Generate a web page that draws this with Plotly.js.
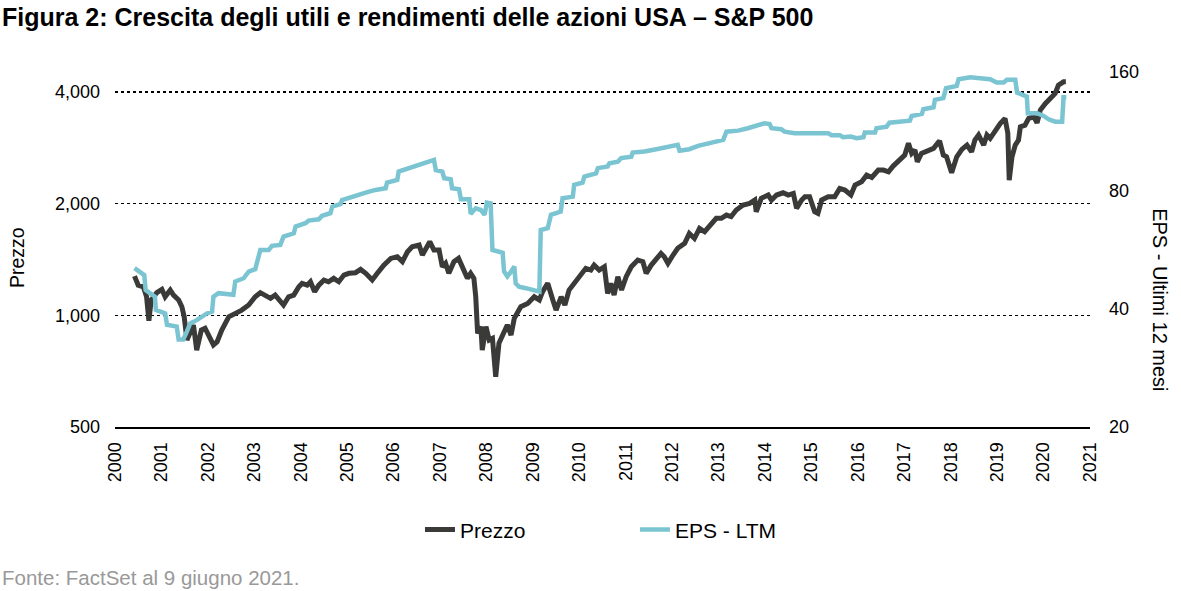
<!DOCTYPE html>
<html>
<head>
<meta charset="utf-8">
<script src="https://cdn.plot.ly/plotly-3.0.1.min.js"></script>
<style>
  html, body { margin: 0; padding: 0; background: #fff; }
  #chart { width: 1181px; height: 591px; }
</style>
</head>
<body>
<div id="chart"></div>
<script>
// S&P 500: prezzo (asse sx, log) ed EPS ultimi 12 mesi (asse dx, log)
const priceDates = [
  2000.42, 2000.50, 2000.61, 2000.68, 2000.73, 2000.78, 2000.90, 2001.01, 2001.08, 2001.19,
  2001.26, 2001.37, 2001.44, 2001.49, 2001.55, 2001.62, 2001.69, 2001.76, 2001.86, 2001.94,
  2002.04, 2002.12, 2002.20, 2002.30, 2002.45, 2002.59, 2002.73, 2002.88, 2003.02, 2003.13,
  2003.24, 2003.35, 2003.45, 2003.56, 2003.63, 2003.74, 2003.85, 2003.96, 2004.03, 2004.14,
  2004.21, 2004.30, 2004.39, 2004.50, 2004.60, 2004.71, 2004.82, 2004.93, 2005.04, 2005.18,
  2005.29, 2005.40, 2005.54, 2005.65, 2005.79, 2005.94, 2006.08, 2006.19, 2006.30, 2006.40,
  2006.55, 2006.62, 2006.69, 2006.78, 2006.87, 2006.98, 2007.05, 2007.12, 2007.19, 2007.30,
  2007.40, 2007.48, 2007.59, 2007.66, 2007.73, 2007.77, 2007.81, 2007.88, 2007.91, 2007.99,
  2008.06, 2008.13, 2008.20, 2008.27, 2008.38, 2008.45, 2008.53, 2008.60, 2008.74, 2008.89,
  2009.03, 2009.14, 2009.21, 2009.32, 2009.43, 2009.50, 2009.61, 2009.69, 2009.78, 2009.89,
  2010.04, 2010.14, 2010.25, 2010.32, 2010.43, 2010.54, 2010.61, 2010.68, 2010.75, 2010.83,
  2010.91, 2011.01, 2011.12, 2011.26, 2011.37, 2011.44, 2011.55, 2011.66, 2011.76, 2011.83,
  2011.91, 2012.02, 2012.12, 2012.27, 2012.37, 2012.48, 2012.59, 2012.70, 2012.81, 2012.95,
  2013.06, 2013.17, 2013.27, 2013.38, 2013.53, 2013.67, 2013.78, 2013.81, 2013.92, 2014.07,
  2014.14, 2014.25, 2014.39, 2014.50, 2014.61, 2014.68, 2014.79, 2014.86, 2014.96, 2015.07,
  2015.14, 2015.22, 2015.36, 2015.50, 2015.61, 2015.72, 2015.85, 2015.94, 2016.08, 2016.19,
  2016.30, 2016.44, 2016.55, 2016.66, 2016.76, 2016.91, 2017.01, 2017.09, 2017.16, 2017.23,
  2017.28, 2017.37, 2017.52, 2017.63, 2017.76, 2017.84, 2017.91, 2018.02, 2018.13, 2018.24,
  2018.35, 2018.45, 2018.52, 2018.60, 2018.71, 2018.78, 2018.85, 2018.96, 2019.07, 2019.17,
  2019.23, 2019.26, 2019.32, 2019.39, 2019.46, 2019.50, 2019.60, 2019.68, 2019.79, 2019.86,
  2019.93, 2020.04, 2020.14, 2020.25, 2020.32, 2020.43, 2020.48
];
const priceValues = [
  1276, 1206, 1194, 1122, 967, 1100, 1151, 1175, 1122, 1170,
  1134, 1100, 1055, 991, 858, 903, 942, 806, 913, 923,
  876, 832, 849, 913, 991, 1012, 1033, 1066, 1122, 1151,
  1134, 1111, 1134, 1088, 1066, 1122, 1134, 1194, 1220, 1206,
  1232, 1158, 1206, 1245, 1232, 1258, 1232, 1284, 1298, 1303,
  1330, 1298, 1245, 1298, 1366, 1424, 1439, 1395, 1484, 1531,
  1547, 1454, 1500, 1579, 1500, 1500, 1352, 1381, 1298, 1395,
  1424, 1352, 1258, 1298, 1258, 1122, 894, 932, 806, 932,
  858, 867, 683, 841, 894, 942, 885, 982, 1055, 1077,
  1122, 1100, 1158, 1220, 1100, 1033, 1122, 1066, 1170, 1220,
  1284, 1339, 1325, 1366, 1325, 1352, 1146, 1220, 1134, 1271,
  1170, 1271, 1352, 1409, 1395, 1298, 1366, 1424, 1469, 1439,
  1381, 1454, 1516, 1563, 1663, 1612, 1716, 1680, 1751, 1826,
  1826, 1863, 1845, 1922, 1983, 2004, 2046, 1902, 2067, 2110,
  2046, 2110, 2140, 2110, 2132, 1943, 2046, 2088, 2088, 1902,
  1883, 2046, 2088, 2088, 2199, 2176, 2110, 2245, 2291, 2388,
  2354, 2464, 2464, 2438, 2526, 2622, 2704, 2908, 2733, 2789,
  2594, 2733, 2789, 2819, 2955, 2704, 2676, 2423, 2676, 2802,
  2877, 2760, 2968, 3062, 2877, 3062, 2999, 3158, 3292, 3396,
  3094, 2315, 2676, 2877, 2968, 3223, 3257, 3396, 3430, 3304,
  3575, 3727, 3845, 3966, 4176, 4262, 4262
];

const epsDates = [
  2000.42, 2000.54, 2000.63, 2000.66, 2000.79, 2000.86, 2000.88, 2001.08, 2001.12, 2001.33,
  2001.37, 2001.47, 2001.55, 2001.62, 2001.76, 2001.87, 2001.98, 2002.09, 2002.12, 2002.23,
  2002.55, 2002.59, 2002.77, 2002.88, 2003.02, 2003.13, 2003.31, 2003.38, 2003.56, 2003.63,
  2003.85, 2003.89, 2004.10, 2004.17, 2004.39, 2004.46, 2004.64, 2004.68, 2004.86, 2004.89,
  2005.11, 2005.36, 2005.40, 2005.61, 2005.83, 2005.86, 2006.08, 2006.11, 2006.33, 2006.44,
  2006.62, 2006.76, 2006.87, 2006.91, 2007.05, 2007.09, 2007.23, 2007.26, 2007.41, 2007.45,
  2007.63, 2007.66, 2007.77, 2007.88, 2007.96, 2008.01, 2008.09, 2008.13, 2008.24, 2008.35,
  2008.38, 2008.45, 2008.53, 2008.60, 2008.63, 2008.70, 2008.85, 2009.03, 2009.14, 2009.17,
  2009.32, 2009.39, 2009.60, 2009.64, 2009.86, 2009.89, 2010.07, 2010.11, 2010.36, 2010.40,
  2010.61, 2010.65, 2010.83, 2010.90, 2011.12, 2011.15, 2011.40, 2011.66, 2011.91, 2012.12,
  2012.16, 2012.37, 2012.56, 2012.77, 2012.91, 2013.10, 2013.17, 2013.42, 2013.63, 2013.85,
  2013.99, 2014.10, 2014.14, 2014.35, 2014.42, 2014.64, 2015.36, 2015.43, 2015.61, 2015.68,
  2015.85, 2015.97, 2016.12, 2016.15, 2016.37, 2016.40, 2016.62, 2016.68, 2016.91, 2017.12,
  2017.16, 2017.38, 2017.41, 2017.63, 2017.66, 2017.84, 2017.90, 2018.13, 2018.17, 2018.42,
  2018.63, 2018.85, 2018.99, 2019.14, 2019.21, 2019.39, 2019.43, 2019.64, 2019.66, 2019.86,
  2020.00, 2020.11, 2020.25, 2020.40, 2020.43, 2020.49
];
const epsValues = [
  50.7, 49.7, 48.7, 44.6, 43.4, 42.9, 39.7, 38.9, 36.4, 36.0,
  33.4, 33.4, 35.0, 36.7, 37.4, 38.2, 38.9, 39.3, 42.9, 43.8,
  43.4, 46.9, 47.8, 49.7, 50.4, 56.4, 56.4, 57.8, 58.1, 61.0,
  62.2, 64.7, 66.0, 67.0, 67.5, 68.9, 70.0, 72.7, 73.9, 75.6,
  76.8, 78.6, 78.9, 80.2, 81.0, 83.7, 85.0, 89.3, 91.1, 92.3,
  93.8, 95.2, 95.6, 90.1, 89.3, 85.9, 85.4, 81.0, 80.5, 75.9,
  75.9, 69.7, 72.0, 71.3, 69.3, 74.4, 74.1, 56.4, 55.9, 55.5,
  49.7, 48.3, 49.7, 51.2, 46.4, 45.5, 45.1, 44.6, 44.2, 63.4,
  64.1, 69.3, 70.6, 76.4, 77.1, 82.6, 83.7, 86.7, 88.4, 91.1,
  92.0, 93.8, 94.6, 96.6, 97.4, 99.8, 100.4, 101.8, 103.0, 104.4,
  100.9, 101.8, 103.8, 105.4, 106.4, 107.5, 112.8, 113.5, 115.1, 116.7,
  118.5, 118.0, 115.1, 114.4, 112.8, 111.8, 111.8, 110.5, 110.5, 109.2,
  109.6, 108.6, 109.2, 112.2, 112.2, 115.1, 116.2, 118.9, 119.6, 120.3,
  123.7, 125.2, 128.6, 130.1, 135.9, 137.3, 145.5, 147.5, 153.4, 155.2,
  154.3, 153.4, 150.4, 150.4, 152.8, 152.8, 141.8, 138.5, 125.7, 125.7,
  123.7, 121.3, 119.6, 119.6, 138.0, 138.0
];

const priceTicks = [500, 1000, 2000, 4000];
const priceTickText = ['500', '1,000', '2,000', '4,000'];
const epsTicks = [20, 40, 80, 160];

const FONT = 'Liberation Sans, Arial, sans-serif';

const data = [
  { x: priceDates, y: priceValues, type: 'scatter', mode: 'lines', name: 'Prezzo',
    line: { color: '#3a3b39', width: 5 }, yaxis: 'y' },
  { x: epsDates, y: epsValues, type: 'scatter', mode: 'lines', name: 'EPS - LTM',
    line: { color: '#7bc4d2', width: 4.5 }, yaxis: 'y2' }
];

const layout = {
  width: 1181, height: 591,
  margin: { l: 115, r: 91, t: 72, b: 164 },
  paper_bgcolor: '#fff', plot_bgcolor: '#fff',
  font: { family: FONT, size: 18, color: '#000' },
  showlegend: true,
  legend: {
    orientation: 'h', x: 0.3128, xanchor: 'left', y: -0.29, yanchor: 'middle',
    font: { family: FONT, size: 21, color: '#000' },
    entrywidth: 170, entrywidthmode: 'pixels'
  },
  xaxis: {
    range: [2000, 2021], tick0: 2000, dtick: 1, tickformat: 'd',
    tickangle: -90, showgrid: false, zeroline: false,
    showline: true, linecolor: '#000', linewidth: 2, ticks: '',
    ticklabelstandoff: 6, tickfont: { size: 18 }
  },
  yaxis: {
    type: 'log', range: [Math.log10(500), Math.log10(4529)],
    tickvals: priceTicks, ticktext: priceTickText,
    showgrid: true, gridcolor: '#000', griddash: 'dot', gridwidth: 1.5,
    zeroline: false, showline: false, ticks: '', ticklabelstandoff: 14,
    tickfont: { size: 18 }
  },
  yaxis2: {
    type: 'log', range: [Math.log10(20), Math.log10(160)],
    overlaying: 'y', side: 'right', tickvals: epsTicks,
    showgrid: false, zeroline: false, showline: false, ticks: '',
    ticklabelstandoff: 18, tickfont: { size: 18 }
  },
  annotations: [
    { text: '<b>Figura 2: Crescita degli utili e rendimenti delle azioni USA – S&P 500</b>',
      xref: 'paper', yref: 'paper', x: -0.1175, y: 1.155, xanchor: 'left', yanchor: 'middle',
      showarrow: false, font: { family: FONT, size: 25, color: '#000' } },
    { text: 'Prezzo', textangle: -90, xref: 'paper', yref: 'paper',
      x: -0.1005, y: 0.476, xanchor: 'center', yanchor: 'middle',
      showarrow: false, font: { family: FONT, size: 19.5, color: '#000' } },
    { text: 'EPS - Ultimi 12 mesi', textangle: 90, xref: 'paper', yref: 'paper',
      x: 1.0718, y: 0.36, xanchor: 'center', yanchor: 'middle',
      showarrow: false, font: { family: FONT, size: 20, color: '#000' } },
    { text: 'Fonte: FactSet al 9 giugno 2021.', xref: 'paper', yref: 'paper',
      x: -0.1175, y: -0.423, xanchor: 'left', yanchor: 'middle',
      showarrow: false, font: { family: FONT, size: 20.5, color: '#999999' } }
  ]
};

Plotly.newPlot('chart', data, layout, { displayModeBar: false, staticPlot: true });
</script>
</body>
</html>
